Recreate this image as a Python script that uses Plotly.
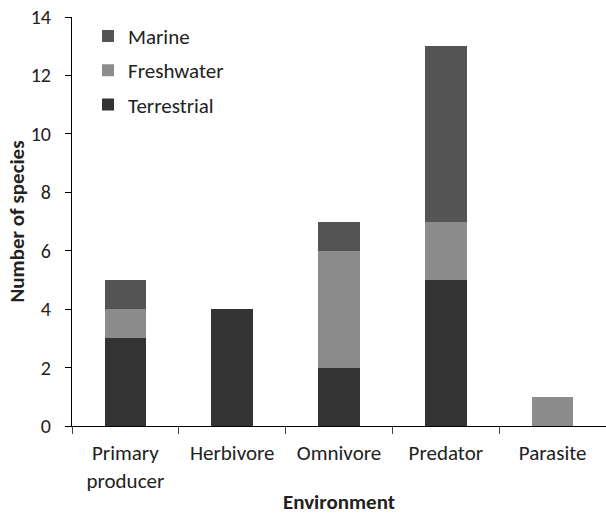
import plotly.graph_objects as go

categories = ["Primary<br>producer", "Herbivore", "Omnivore", "Predator", "Parasite"]
terrestrial = [3, 4, 2, 5, 0]
freshwater = [1, 0, 4, 2, 1]
marine = [1, 0, 1, 6, 0]

series = [
    ("Terrestrial", terrestrial, "#333333", 3),
    ("Freshwater", freshwater, "#8c8c8c", 2),
    ("Marine", marine, "#545454", 1),
]

FONT = "Carlito, Lato, 'Liberation Sans', sans-serif"

fig = go.Figure()
for name, vals, col, rank in series:
    fig.add_trace(go.Bar(x=categories, y=vals, name=name, marker_color=col,
                         marker_line_width=0, legendgroup=name, legendrank=rank))

fig.update_layout(
    width=606, height=515,
    barmode="stack", bargap=0.61,
    plot_bgcolor="white", paper_bgcolor="white",
    margin=dict(l=72, r=0, t=17, b=89, autoexpand=False),
    font=dict(family=FONT, size=20, color="#222"),
    legend=dict(x=0.03, y=1.003, xanchor="left", yanchor="top",
                traceorder="grouped", font=dict(size=21),
                itemwidth=30, tracegroupgap=4, bgcolor="rgba(0,0,0,0)"),
    showlegend=True,
)
fig.update_xaxes(
    automargin=False,
    showline=True, linecolor="black", linewidth=1,
    ticks="outside", tickson="boundaries", ticklen=7, tickcolor="#444",
    tickfont=dict(size=21), ticklabelstandoff=8, ticklabeloverflow="allow",
    title=dict(text="<b>Environment</b>", font=dict(size=21), standoff=11),
)
fig.update_yaxes(
    automargin=False,
    range=[0, 14], dtick=2, showgrid=False, zeroline=False,
    showline=True, linecolor="black", linewidth=1,
    ticks="outside", ticklen=6, tickcolor="black",
    tickfont=dict(size=20), ticklabelstandoff=10, ticklabeloverflow="allow",
    title=dict(text="<b>Number of species</b>", font=dict(size=21), standoff=0),
)

fig.write_html("out.html", config={"displayModeBar": False},
               post_script="document.body.style.margin='0px';")
